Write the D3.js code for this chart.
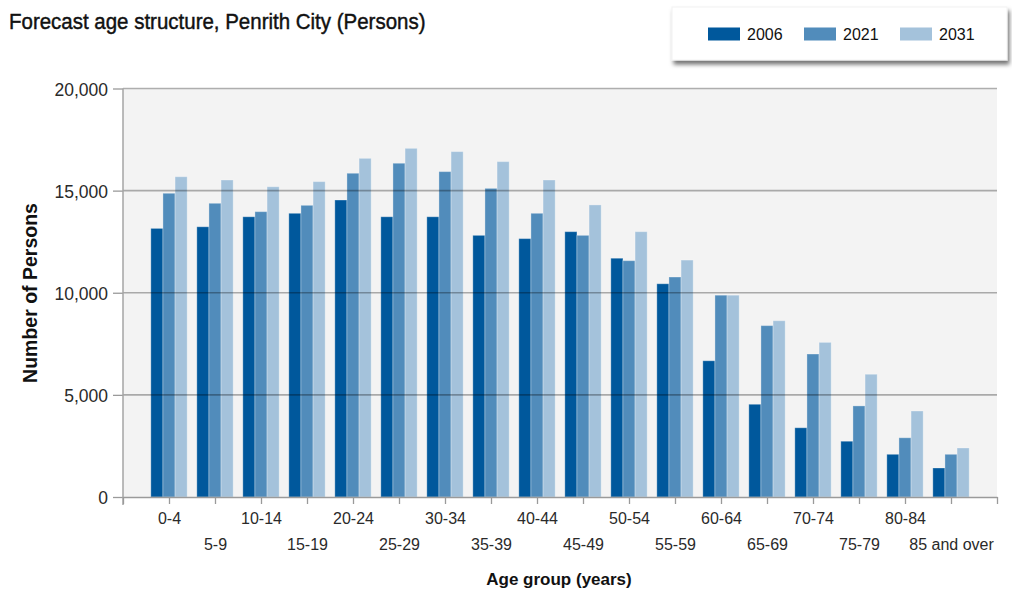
<!DOCTYPE html>
<html>
<head>
<meta charset="utf-8">
<script src="https://cdn.jsdelivr.net/npm/d3@7"></script>
<style>
  body { margin: 0; background: #fff; }
  svg { display: block; }
  text { font-family: "Liberation Sans", Arial, Helvetica, sans-serif; }
</style>
</head>
<body>
<svg id="chart" width="1012" height="590"></svg>
<script>
// Forecast population by five-year age group, Penrith City
const ageGroups = ["0-4", "5-9", "10-14", "15-19", "20-24", "25-29", "30-34", "35-39",
  "40-44", "45-49", "50-54", "55-59", "60-64", "65-69", "70-74", "75-79", "80-84", "85 and over"];
const seriesYears = ["2006", "2021", "2031"];
const persons2006 = [13150, 13230, 13720, 13890, 14540, 13720, 13720, 12810,
  12650, 12990, 11690, 10440, 6670, 4540, 3390, 2730, 2090, 1420];
const persons2021 = [14870, 14380, 13970, 14280, 15850, 16340, 15930, 15110,
  13890, 12810, 11570, 10770, 9880, 8390, 7000, 4460, 2900, 2090];
const persons2031 = [15680, 15520, 15190, 15440, 16580, 17070, 16910, 16420,
  15520, 14300, 12990, 11600, 9880, 8630, 7570, 6010, 4210, 2400];
const yTicks = [0, 5000, 10000, 15000, 20000];
const seriesColors = ["#00589c", "#518cbb", "#a4c2db"];

const seriesValues = [persons2006, persons2021, persons2031];
const rows = ageGroups.map((g, i) => ({
  group: g,
  index: i + 1,
  values: seriesYears.map((s, j) => ({ key: s, value: seriesValues[j][i] }))
}));

const svg = d3.select("#chart");

const defs = svg.append("defs");
const shadow = defs.append("filter").attr("id", "legendShadow")
  .attr("x", "-5%").attr("y", "-20%").attr("width", "115%").attr("height", "160%");
shadow.append("feDropShadow")
  .attr("dx", 2).attr("dy", 4).attr("stdDeviation", 2.2)
  .attr("flood-color", "#000").attr("flood-opacity", 0.55);

// Scales: positions 0..19 on the category axis, groups sit on 1..18
const x = d3.scaleLinear().domain([0, ageGroups.length + 1]).range([123, 997]);
const step = x(1) - x(0);
const xInner = d3.scaleBand().domain(seriesYears).range([-step * 0.395, step * 0.395]);
const y = d3.scaleLinear().domain([0, 20000]).range([497, 88.5]);

// Plot background
svg.append("rect")
  .attr("x", x(0)).attr("y", y(20000))
  .attr("width", x(ageGroups.length + 1) - x(0))
  .attr("height", y(0) - y(20000))
  .attr("fill", "#f3f3f3");

// Bars
const groups = svg.append("g").selectAll("g").data(rows).join("g")
  .attr("transform", d => `translate(${x(d.index)},0)`);
groups.selectAll("rect").data(d => d.values).join("rect")
  .attr("x", d => xInner(d.key))
  .attr("width", xInner.bandwidth())
  .attr("y", d => y(d.value))
  .attr("height", d => y(0) - y(d.value))
  .attr("fill", (d, j) => seriesColors[j])
  .attr("stroke", "rgba(255,255,255,0.3)")
  .attr("stroke-width", 1);

// Gridlines over the bars
svg.append("g").selectAll("line").data(yTicks.filter(v => v > 0)).join("line")
  .attr("x1", x(0)).attr("x2", x(ageGroups.length + 1))
  .attr("y1", d => y(d)).attr("y2", d => y(d))
  .attr("stroke", "#000").attr("stroke-opacity", 0.3).attr("stroke-width", 1.6);

// Y axis
const yAxis = svg.append("g")
  .attr("transform", `translate(${x(0)},0)`)
  .call(d3.axisLeft(y).tickValues(yTicks).tickSize(10).tickPadding(5)
    .tickFormat(d3.format(",")));
yAxis.select(".domain").remove();
yAxis.selectAll(".tick line").attr("stroke", "#9a9a9a").attr("stroke-width", 1.3);
yAxis.selectAll(".tick text")
  .attr("fill", "#2a2a2a").attr("font-size", "17.5px").attr("dy", "0.38em");
svg.append("line")
  .attr("x1", x(0)).attr("x2", x(0))
  .attr("y1", y(20000)).attr("y2", y(0) + 8)
  .attr("stroke", "#a5a5a5").attr("stroke-width", 1.5);

// X axis with alternating label rows
const xAxis = svg.append("g")
  .attr("transform", `translate(0,${y(0)})`)
  .call(d3.axisBottom(x).tickValues(d3.range(0, ageGroups.length + 2)).tickSize(7)
    .tickSizeOuter(0).tickFormat(i => ageGroups[i - 1] || ""));
xAxis.select(".domain").attr("stroke", "#9a9a9a").attr("stroke-width", 1.5);
xAxis.selectAll(".tick line").attr("stroke", "#9a9a9a").attr("stroke-width", 1.3);
xAxis.selectAll(".tick text")
  .attr("fill", "#2a2a2a").attr("font-size", "16px")
  .attr("dy", null)
  .attr("y", i => (i % 2 === 1 ? 26.5 : 52.5));

// Axis titles
svg.append("text")
  .attr("x", 559).attr("y", 585)
  .attr("text-anchor", "middle")
  .attr("font-size", "17px").attr("font-weight", "bold").attr("fill", "#111")
  .text("Age group (years)");
svg.append("text")
  .attr("transform", "translate(37,293) rotate(-90)")
  .attr("text-anchor", "middle")
  .attr("font-size", "19.5px").attr("font-weight", "bold").attr("fill", "#111")
  .text("Number of Persons");

// Chart title, slightly condensed and heavier
const title = svg.append("text")
  .attr("x", 9).attr("y", 29)
  .attr("font-size", "22.5px").attr("fill", "#111")
  .attr("stroke", "#111").attr("stroke-width", 0.45)
  .text("Forecast age structure, Penrith City (Persons)");
const tw = title.node().getComputedTextLength();
title.attr("textLength", tw * 0.91).attr("lengthAdjust", "spacingAndGlyphs");

// Legend
const legend = svg.append("g");
legend.append("rect")
  .attr("x", 672).attr("y", 7).attr("width", 335).attr("height", 53)
  .attr("fill", "#fff").attr("stroke", "#f2f2f2").attr("stroke-width", 1)
  .attr("filter", "url(#legendShadow)");
const items = legend.selectAll("g.item").data(seriesYears).join("g")
  .attr("class", "item")
  .attr("transform", (d, j) => `translate(${708 + j * 96},0)`);
items.append("rect")
  .attr("x", 0).attr("y", 27.5).attr("width", 32).attr("height", 13)
  .attr("fill", (d, j) => seriesColors[j]);
items.append("text")
  .attr("x", 39).attr("y", 40)
  .attr("font-size", "16px").attr("fill", "#111")
  .text(d => d);
</script>
</body>
</html>
